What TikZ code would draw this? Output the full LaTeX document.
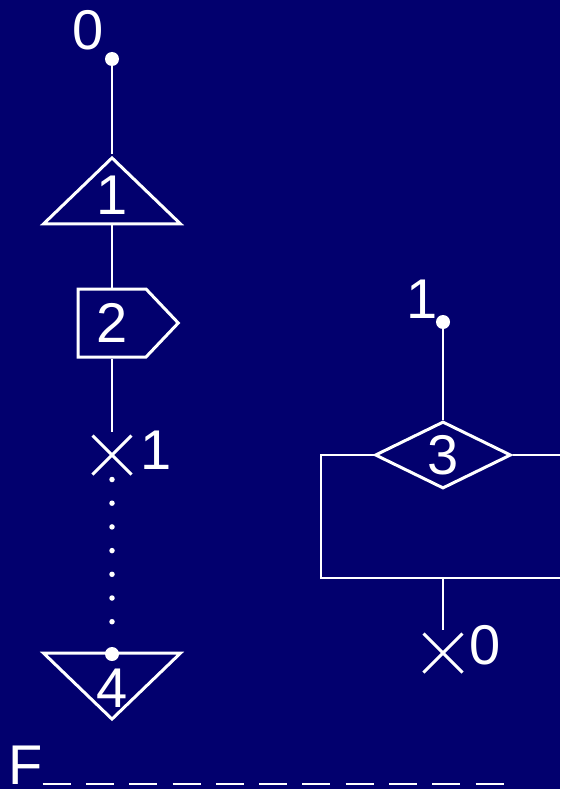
\documentclass[tikz,border=0pt]{standalone}
\usepackage{fontspec}
\setmainfont{Liberation Sans}
\usetikzlibrary{positioning,shapes.geometric,shapes.symbols,shapes.misc}
\definecolor{navybg}{HTML}{02006E}
\tikzset{
  digit/.style={text=white, inner sep=0pt, font=\fontsize{56}{60}\selectfont},
  outline/.style={draw=white, line width=3pt, inner sep=0pt, digit},
  uptri/.style={outline, isosceles triangle, isosceles triangle stretches, shape border rotate=90, minimum width=137pt, minimum height=66pt, anchor=apex},
  downtri/.style={uptri, shape border rotate=-90},
  flagbox/.style={outline, signal, signal to=east, signal pointer angle=93, text width=68pt, align=center, minimum height=68pt},
  testbox/.style={outline, diamond, aspect=2, minimum width=136pt, minimum height=67pt},
  stopmark/.style={draw=white, line width=3pt, cross out, minimum size=36pt, inner sep=0pt},
  startdot/.style={circle, fill=white, minimum size=14pt, inner sep=0pt},
  wire/.style={draw=white, line width=1.5pt},
  dotline/.style={draw=white, line width=5.5pt, line cap=round, dash pattern=on 0pt off 23.7pt},
  dashline/.style={draw=white, line width=2.5pt, dash pattern=on 28pt off 15.3pt}
}
\begin{document}
\begin{tikzpicture}[x=1pt, y=-1pt]
  \fill[navybg] (0,0) rectangle (560,789);
  \useasboundingbox (0,0) rectangle (560,789);
  \node[startdot] (dot0) at (112,59) {};
  \node[digit] (lab0) at (88,30) {0};
  \node[uptri] (t1) at (112,154) {};
  \node[digit] (lab1t) at (112,195) {1};
  \node[flagbox] (box2) at (112,323) {2};
  \node[stopmark] (x1) at (112,455) {};
  \node[digit] (lab1) at (156,450) {1};
  \node[downtri] (t4) at (112,723) {};
  \node[digit] (lab4) at (112,688) {4};
  \node[startdot] (dot4) at (112,654) {};
  \draw[wire] (dot0) -- (t1.apex);
  \draw[wire] (t1.lower side) -- (t1.lower side |- box2.north);
  \draw[wire, shorten >=4pt] (t1.lower side |- box2.south) -- (x1.north);
  \draw[dotline] ([yshift=-5pt]x1.south) -- ([yshift=10pt]dot4.center);
  \node[startdot] (dot3) at (443,322) {};
  \node[digit] (lab3) at (422,299) {1};
  \node[testbox] (d3) at (443,455) {3};
  \coordinate (loopL) at (321,578);
  \coordinate (loopR) at (560,578);
  \coordinate (exitR) at (560,455);
  \node[stopmark] (x0) at (443,653) {};
  \node[digit] (labx0) at (485,645) {0};
  \draw[wire] (dot3) -- (d3.north);
  \draw[wire] (d3.west) -| (loopL) -- (loopR);
  \draw[wire] (d3.east) -- (exitR);
  \draw[wire, shorten >=4pt] (d3.south |- loopL) -- (x0.north);
  \node[digit, anchor=base west] (F) at (8,784) {F};
  \draw[dashline] (F.base east) -- ++(463,0);
\end{tikzpicture}
\end{document}
